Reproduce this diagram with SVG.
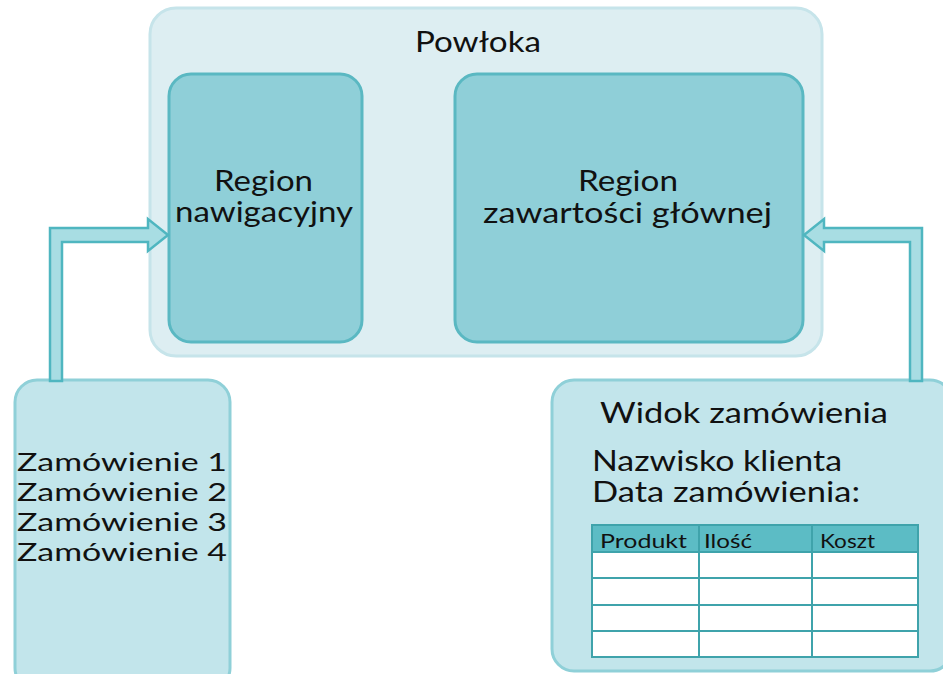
<svg xmlns="http://www.w3.org/2000/svg" width="943" height="674" viewBox="0 0 943 674">
<style>
text{font-family:Lato,"Liberation Sans","DejaVu Sans",sans-serif;fill:#111;}
.shell{fill:#ddeef2;stroke:#c6e4ea;stroke-width:3;}
.region{fill:#8fcfd8;stroke:#5ab8c2;stroke-width:3;}
.view{fill:#c2e5eb;stroke:#8fd0d8;stroke-width:3;}
.arrow{fill:#a8dde3;stroke:#4fb6c0;stroke-width:2.5;stroke-linejoin:miter;}
.big{font-size:28px;}
.list{font-size:24.5px;}
.th{font-size:20px;}
.grid{stroke:#3fa3ab;stroke-width:2;fill:none;}
</style>
<rect width="943" height="674" fill="#ffffff"/>
<g id="powloka">
<rect class="shell" x="150" y="8" width="672" height="348" rx="26"/>
<text class="big" x="415" y="52" textLength="126" lengthAdjust="spacingAndGlyphs">Powłoka</text>
</g>
<g id="region-nawigacyjny">
<rect class="region" x="169" y="74" width="193" height="268" rx="22"/>
<text class="big" x="214" y="191" textLength="99" lengthAdjust="spacingAndGlyphs">Region</text>
<text class="big" x="175" y="222" textLength="178" lengthAdjust="spacingAndGlyphs">nawigacyjny</text>
</g>
<g id="region-zawartosci">
<rect class="region" x="455" y="74" width="348" height="268" rx="22"/>
<text class="big" x="578" y="191" textLength="100" lengthAdjust="spacingAndGlyphs">Region</text>
<text class="big" x="483" y="223" textLength="289" lengthAdjust="spacingAndGlyphs">zawartości głównej</text>
</g>
<g id="lista-zamowien">
<rect class="view" x="15" y="380" width="215" height="310" rx="22"/>
<text class="list" x="17" y="471" textLength="210" lengthAdjust="spacingAndGlyphs">Zamówienie 1</text>
<text class="list" x="17" y="501" textLength="210" lengthAdjust="spacingAndGlyphs">Zamówienie 2</text>
<text class="list" x="17" y="531" textLength="210" lengthAdjust="spacingAndGlyphs">Zamówienie 3</text>
<text class="list" x="17" y="561" textLength="210" lengthAdjust="spacingAndGlyphs">Zamówienie 4</text>
</g>
<g id="widok-zamowienia">
<rect class="view" x="552" y="380" width="400" height="291" rx="22"/>
<text class="big" x="600" y="423" textLength="288" lengthAdjust="spacingAndGlyphs">Widok zamówienia</text>
<text class="big" x="592" y="471" textLength="250" lengthAdjust="spacingAndGlyphs">Nazwisko klienta</text>
<text class="big" x="592" y="502" textLength="268" lengthAdjust="spacingAndGlyphs">Data zamówienia:</text>
<rect x="592" y="525" width="326" height="27" fill="#5cbcc5"/>
<rect x="592" y="552" width="326" height="105" fill="#ffffff"/>
<rect class="grid" x="592" y="525" width="326" height="132"/>
<path class="grid" d="M592 552H918M592 578H918M592 605H918M592 631H918M699 525V657M812 525V657"/>
<text class="th" x="600" y="548" textLength="87" lengthAdjust="spacingAndGlyphs">Produkt</text>
<text class="th" x="704" y="548" textLength="48" lengthAdjust="spacingAndGlyphs">Ilość</text>
<text class="th" x="820" y="548" textLength="55" lengthAdjust="spacingAndGlyphs">Koszt</text>
</g>
<g id="connectors">
<path class="arrow" d="M50 381V228H148V219L168 235L148 251V242H62V381Z"/>
<path class="arrow" d="M922 381V228H824V219L804 235L824 251V242H910V381Z"/>
</g>
</svg>
